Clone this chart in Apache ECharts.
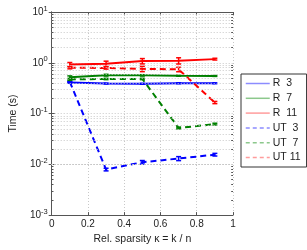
<!DOCTYPE html>
<html><head><meta charset="utf-8">
<script src="https://cdn.jsdelivr.net/npm/echarts@6/dist/echarts.min.js"></script>
<style>html,body{margin:0;padding:0;background:#fff}#c{width:307px;height:250px}</style>
</head><body><div id="c"></div>
<script>
const xVals = [0.1, 0.3, 0.5, 0.7, 0.9];
const seriesNames = ['R  3', 'R  7', 'R  11', 'UT  3', 'UT  7', 'UT 11'];
const R3 = [0.41, 0.39, 0.385, 0.395, 0.395];
const R7 = [0.52, 0.57, 0.565, 0.555, 0.55];
const R11 = [0.92, 0.96, 1.08, 1.1, 1.18];
const UT3 = [0.42, 0.0079, 0.011, 0.013, 0.0155];
const UT7 = [0.47, 0.48, 0.48, 0.052, 0.062];
const UT11 = [0.8, 0.79, 0.76, 0.74, 0.165];
// relative error half-widths
const R3Err = [0.03, 0.02, 0.02, 0.02, 0.02];
const R7Err = [0.06, 0.04, 0.03, 0.02, 0.02];
const R11Err = [0.1, 0.12, 0.12, 0.14, 0.04];
const UT3Err = [0.03, 0.06, 0.08, 0.09, 0.06];
const UT7Err = [0.04, 0.03, 0.03, 0.04, 0.04];
const UT11Err = [0.05, 0.05, 0.12, 0.1, 0.05];
const xTicks = [0, 0.2, 0.4, 0.6, 0.8, 1];
const yDecades = [0.001, 0.01, 0.1, 1, 10];

const colors = ['#0000ff', '#008000', '#ff0000', '#0000ff', '#008000', '#ff0000'];
const legendColors = ['#8c8cff', '#8cc88c', '#ff9c9c', '#8c8cff', '#8cc88c', '#ff9c9c'];
const values = [R3, R7, R11, UT3, UT7, UT11];
const errs = [R3Err, R7Err, R11Err, UT3Err, UT7Err, UT11Err];

const minorVals = [];
for (let d = 0; d < yDecades.length - 1; d++) for (let k = 2; k <= 9; k++) minorVals.push(+(yDecades[d] * k).toPrecision(3));

const chart = echarts.init(document.getElementById('c'), null, {renderer: 'canvas'});
const series = [];
values.forEach((v, i) => {
  series.push({
    name: seriesNames[i], type: 'line', data: xVals.map((x, j) => [x, v[j]]),
    symbol: 'none', showSymbol: false,
    lineStyle: {color: colors[i], width: 2, type: i >= 3 ? [6, 4] : 'solid'},
    itemStyle: {color: colors[i]}, z: 3
  });
  series.push({
    type: 'custom', silent: true, z: 4,
    data: xVals.map((x, j) => [x, v[j] * (1 - errs[i][j]), v[j] * (1 + errs[i][j])]),
    renderItem: (params, api) => {
      const lo = api.coord([api.value(0), api.value(1)]);
      const hi = api.coord([api.value(0), api.value(2)]);
      const st = {stroke: colors[i], lineWidth: 1.5};
      return {type: 'group', children: [
        {type: 'line', shape: {x1: lo[0], y1: lo[1], x2: hi[0], y2: hi[1]}, style: st},
        {type: 'line', shape: {x1: lo[0] - 2.5, y1: lo[1], x2: lo[0] + 2.5, y2: lo[1]}, style: st},
        {type: 'line', shape: {x1: hi[0] - 2.5, y1: hi[1], x2: hi[0] + 2.5, y2: hi[1]}, style: st}
      ]};
    }
  });
});
// minor grid lines
series.push({
  type: 'line', data: [], silent: true, z: 1,
  markLine: {silent: true, symbol: 'none', label: {show: false},
    lineStyle: {color: '#c8c8c8', width: 1, type: [1, 2]},
    data: minorVals.map(v => ({yAxis: v}))}
});
// minor ticks
series.push({
  type: 'line', data: [], silent: true, z: 2,
  markLine: {silent: true, symbol: 'none', label: {show: false},
    lineStyle: {color: '#555', width: 1, type: 'solid'},
    data: minorVals.flatMap(v => [[{coord: [0, v]}, {coord: [0.01, v]}], [{coord: [0.99, v]}, {coord: [1, v]}]])}
});

const axisLine = {show: true, lineStyle: {color: '#555', width: 1}};
const font = 'Liberation Sans';
chart.setOption({
  animation: false,
  grid: {left: 41, right: 74, top: 12, bottom: 30},
  legend: {
    orient: 'vertical', left: 241, top: 74, width: 62,
    data: seriesNames.map((n, i) => ({
      name: n,
      itemStyle: {opacity: 0, borderWidth: 0},
      lineStyle: {color: legendColors[i], width: 1.5, opacity: 1, type: i >= 3 ? [4, 3] : 'solid'}
    })),
    itemWidth: 24, itemHeight: 8, itemGap: 3.8,
    padding: [4, 6, 4, 4],
    borderColor: '#333', borderWidth: 1, backgroundColor: '#fff',
    textStyle: {fontFamily: font, fontSize: 10.5, color: '#222', padding: [0, 0, 0, -2]}
  },
  xAxis: [{
    type: 'value', min: 0, max: 1, interval: 0.2,
    name: 'Rel. sparsity κ = k / n', nameLocation: 'middle', nameGap: 15,
    nameTextStyle: {fontFamily: font, fontSize: 10.5, color: '#222'},
    axisLine: axisLine, axisTick: {inside: true, length: 3, lineStyle: {color: '#555'}},
    axisLabel: {fontFamily: font, fontSize: 10, color: '#222', margin: 4,
      formatter: v => xTicks.indexOf(v) >= 0 ? String(v) : ''},
    splitLine: {show: true, lineStyle: {color: '#c8c8c8', type: [1, 2]}}
  }, {
    type: 'value', min: 0, max: 1, interval: 0.2, position: 'top',
    axisLine: axisLine, axisTick: {inside: true, length: 3, lineStyle: {color: '#555'}},
    axisLabel: {show: false}, splitLine: {show: false}
  }],
  yAxis: [{
    type: 'log', min: 0.001, max: 10, logBase: 10,
    name: 'Time (s)', nameLocation: 'middle', nameGap: 27, nameRotate: 90,
    nameTextStyle: {fontFamily: font, fontSize: 10.5, color: '#222'},
    axisLine: axisLine, axisTick: {inside: true, length: 3, lineStyle: {color: '#555'}},
    axisLabel: {fontFamily: font, fontSize: 10, color: '#222', margin: 4,
      formatter: v => '10{s|' + Math.round(Math.log10(v)) + '}',
      rich: {s: {fontSize: 7.5, fontFamily: font, color: '#222', verticalAlign: 'top', padding: [0, 0, 7, 0]}}},
    splitLine: {show: true, lineStyle: {color: '#c8c8c8', type: [1, 2]}}
  }, {
    type: 'log', min: 0.001, max: 10, position: 'right',
    axisLine: axisLine, axisTick: {inside: true, length: 3, lineStyle: {color: '#555'}},
    axisLabel: {show: false}, splitLine: {show: false}
  }],
  series: series
});
</script>
</body></html>
